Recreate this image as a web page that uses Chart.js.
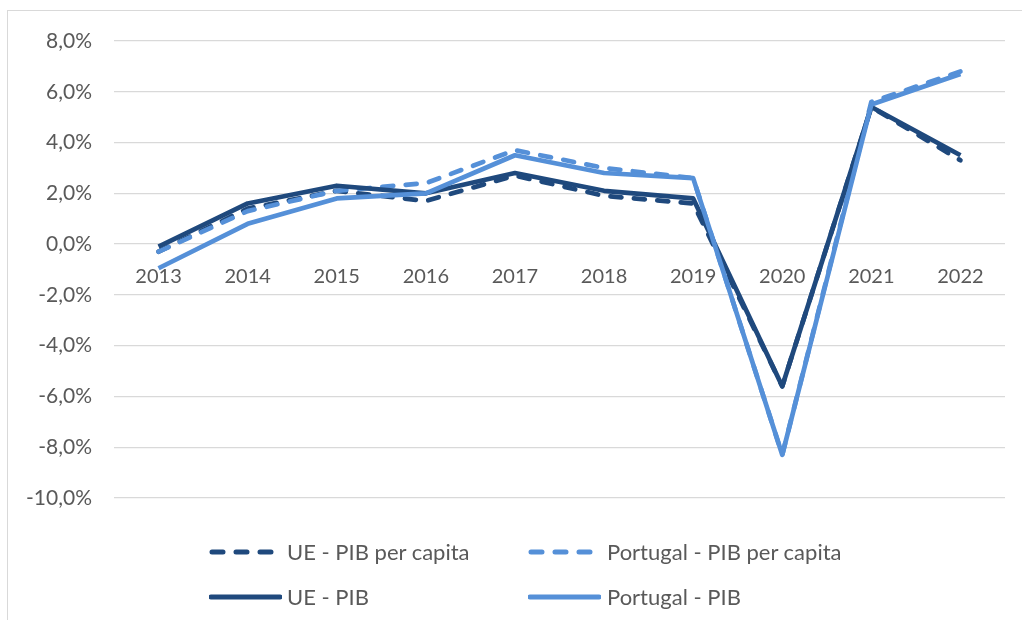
<!DOCTYPE html>
<html>
<head>
<meta charset="utf-8">
<script src="https://cdn.jsdelivr.net/npm/chart.js@4/dist/chart.umd.min.js"></script>
<style>
  body { margin: 0; background: #fff; font-family: Lato, "Open Sans", sans-serif; }
  #wrap { position: relative; width: 1022px; height: 620px; overflow: hidden; }
  #frame { position: absolute; left: 7px; top: 10px; width: 1030px; height: 630px; border: 1px solid #d9d9d9; box-sizing: border-box; }
  canvas { position: absolute; left: 0; top: 0; }
  .leg { position: absolute; font-size: 22px; line-height: 30px; height: 30px; color: #595959; white-space: nowrap; }
  .leg svg { position: absolute; top: 10px; }
</style>
</head>
<body>
<div id="wrap">
  <div id="frame"></div>
  <canvas id="results" width="1022" height="620"></canvas>
  <div id="legend"></div>
</div>
<script>
'use strict';

// data (percent)
var years = ['2013', '2014', '2015', '2016', '2017', '2018', '2019', '2020', '2021', '2022'];
var uePibPerCapita = [-0.3, 1.4, 2.1, 1.7, 2.7, 1.9, 1.6, -5.6, 5.4, 3.3];
var ptPibPerCapita = [-0.3, 1.3, 2.1, 2.4, 3.7, 3.0, 2.6, -8.3, 5.6, 6.8];
var uePib = [-0.1, 1.6, 2.3, 2.0, 2.8, 2.1, 1.8, -5.6, 5.4, 3.5];
var ptPib = [-0.95, 0.8, 1.8, 2.0, 3.5, 2.8, 2.6, -8.3, 5.5, 6.7];
var yTicks = [8, 6, 4, 2, 0, -2, -4, -6, -8, -10];

var darkBlue = '#1f497d';
var lightBlue = '#5590d8';

function makeSet(label, values, color, dashed, order) {
  return {
    label: label,
    data: values,
    borderColor: color,
    backgroundColor: color,
    borderWidth: 4.7,
    borderDash: dashed ? [11, 12.5] : [],
    borderCapStyle: dashed ? 'round' : 'butt',
    borderJoinStyle: 'round',
    pointRadius: 0,
    tension: 0,
    fill: false,
    order: order
  };
}

var datasets = [
  makeSet('UE - PIB per capita', uePibPerCapita, darkBlue, true, 3),
  makeSet('Portugal - PIB per capita', ptPibPerCapita, lightBlue, true, 2),
  makeSet('UE - PIB', uePib, darkBlue, false, 1),
  makeSet('Portugal - PIB', ptPib, lightBlue, false, 0)
];

var ctx = document.getElementById('results').getContext('2d');
var chart = new Chart(ctx, {
  type: 'line',
  data: { labels: years, datasets: datasets },
  options: {
    responsive: false,
    animation: false,
    layout: { padding: { left: 10, right: 17, top: 41, bottom: 122 } },
    plugins: { legend: { display: false }, tooltip: { enabled: false } },
    scales: {
      x: {
        position: { y: 0 },
        offset: true,
        grid: { display: false, drawTicks: false },
        border: { display: false },
        ticks: {
          color: '#595959',
          padding: 20,
          maxRotation: 0,
          font: { family: 'Lato', size: 20 }
        }
      },
      y: {
        min: -10,
        max: 8,
        afterBuildTicks: function (scale) {
          scale.ticks = yTicks.map(function (v) { return { value: v }; });
        },
        afterFit: function (scale) { scale.width = 104; },
        grid: { color: '#d9d9d9', lineWidth: 1.3, drawTicks: false },
        border: { display: false },
        ticks: {
          color: '#595959',
          padding: 22,
          font: { family: 'Lato', size: 21 },
          callback: function (v) { return v.toFixed(1).replace('.', ',') + '%'; }
        }
      }
    }
  }
});

// legend in two columns, as in the picture: [sample left, text left, row centre]
var legendPos = [[209, 287, 552], [528, 607, 552], [209, 287, 597], [528, 607, 597]];
var legendHtml = '';
datasets.forEach(function (ds, i) {
  var p = legendPos[i];
  var svg;
  if (ds.borderDash.length) {
    svg = '<svg width="66" height="10" style="left:' + (p[0] - p[1]) + 'px"><line x1="3" y1="5" x2="63" y2="5" stroke="' +
      ds.borderColor + '" stroke-width="5" stroke-dasharray="11 13" stroke-linecap="round"/></svg>';
  } else {
    svg = '<svg width="73" height="10" style="left:' + (p[0] - p[1]) + 'px"><line x1="2" y1="5" x2="71" y2="5" stroke="' +
      ds.borderColor + '" stroke-width="5" stroke-linecap="round"/></svg>';
  }
  legendHtml += '<div class="leg" style="left:' + p[1] + 'px;top:' + (p[2] - 15) + 'px">' + svg + ds.label + '</div>';
});
document.getElementById('legend').innerHTML = legendHtml;
</script>
</body>
</html>
